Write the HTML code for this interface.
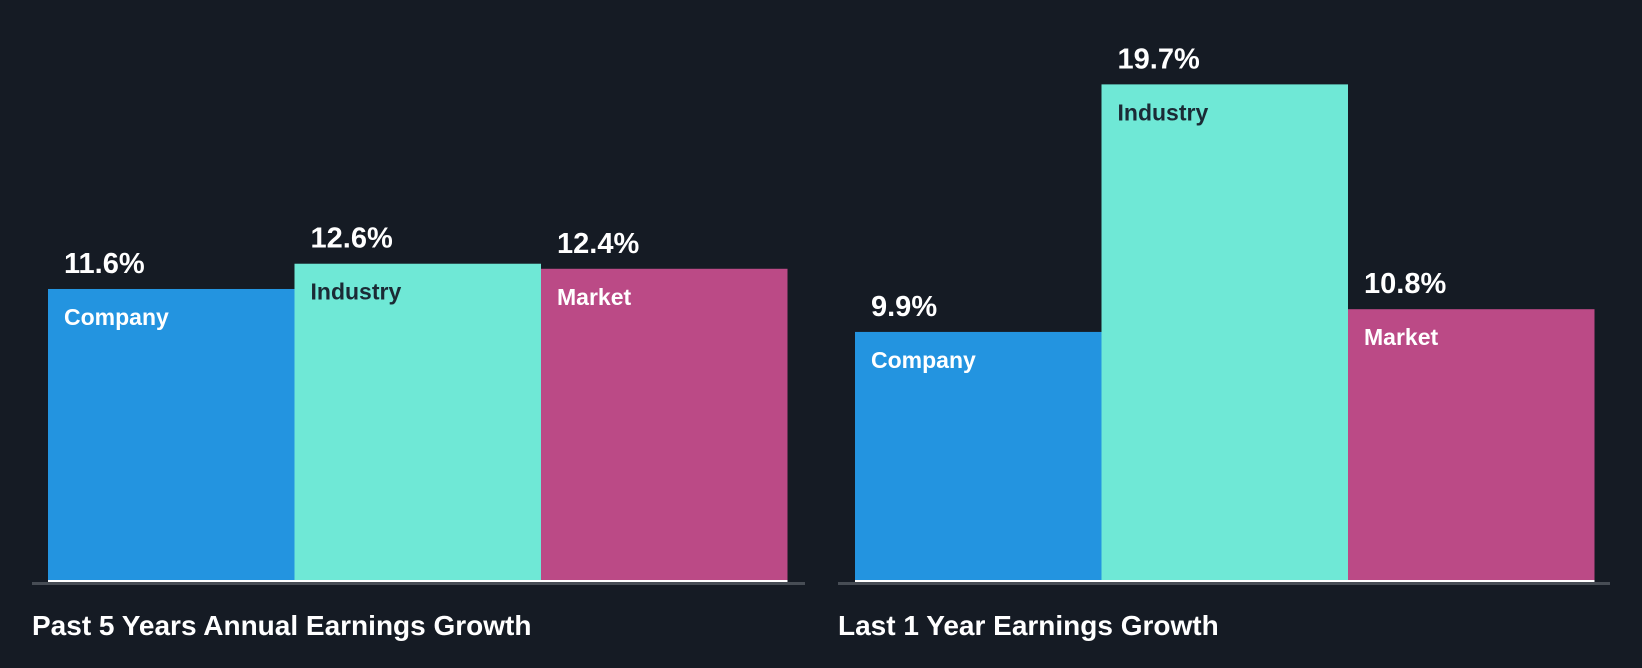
<!DOCTYPE html>
<html><head><meta charset="utf-8"><style>
body{margin:0;background:#151b24;}
svg{display:block;font-family:"Liberation Sans",Arial,sans-serif;font-weight:bold;}
</style></head><body>
<svg id="chart" width="1642" height="668">
<rect width="1642" height="668" fill="#151b24"/>
<g id="g"></g>
</svg>
<script>
const categories = ["Company","Industry","Market"];
const past5Values = [11.6, 12.6, 12.4];
const last1Values = [9.9, 19.7, 10.8];
const panelTitles = ["Past 5 Years Annual Earnings Growth","Last 1 Year Earnings Growth"];
const colors=["#2394e0","#6fe8d6","#bb4a86"];
const labelColors=["#ffffff","#1b2a35","#ffffff"];
const baseY=582, scale=25.26;
const yPos=v=>baseY-v*scale;
const panels=[{vals:past5Values,x0:48,axis:[32,805],tx:32},{vals:last1Values,x0:855,axis:[838,1610],tx:838}];
const bw=246.5;
const g=document.getElementById('g');
const NS="http://www.w3.org/2000/svg";
function mk(t,a,txt){const e=document.createElementNS(NS,t);for(const k in a)e.setAttribute(k,a[k]);if(txt!==undefined)e.textContent=txt;g.appendChild(e);return e;}
panels.forEach((p,pi)=>{
  p.vals.forEach((v,i)=>{
    const x=p.x0+i*bw, y=yPos(v);
    const r=mk('rect',{x:x,y:y,width:bw,height:baseY-y,fill:colors[i]});
    
    
    const w=mk('rect',{x:x,y:baseY-2,width:bw,height:2,fill:"#ffffff"});
    
    
    const vl=mk('text',{x:x+16,y:y-16,fill:"#ffffff","font-size":29},v.toFixed(1)+"%");
    
    
    const cl=mk('text',{x:x+16,y:y+36,fill:labelColors[i],"font-size":23},categories[i]);
    
    
  });
  const ax=mk('rect',{x:p.axis[0],y:582,width:p.axis[1]-p.axis[0],height:3,fill:"#474d55"});
  
  
  const t=mk('text',{x:p.tx,y:635,fill:"#ffffff","font-size":28},panelTitles[pi]);
  
  
});
</script>
</body></html>
